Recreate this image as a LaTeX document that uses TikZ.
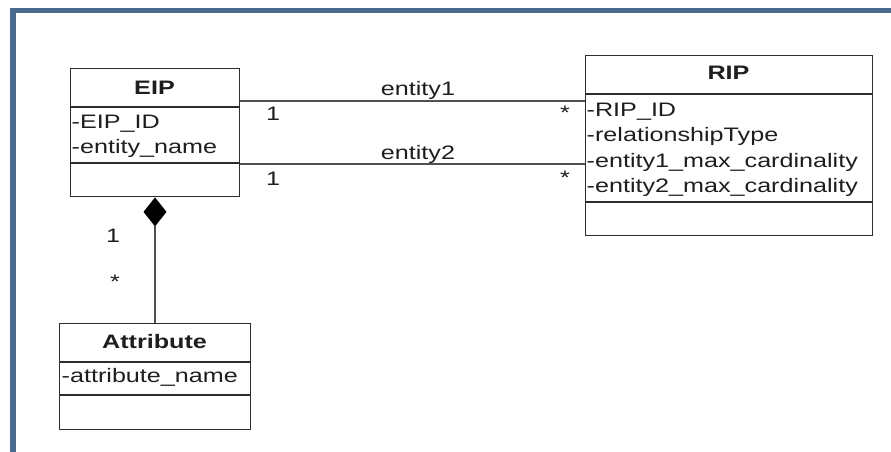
\documentclass[tikz,border=0pt]{standalone}
\usepackage{fontspec}
\setmainfont{Liberation Sans}[FakeStretch=1.29]
\usetikzlibrary{calc}
\definecolor{frameblue}{RGB}{74,106,142}
\definecolor{boxline}{RGB}{45,45,45}
\definecolor{linkline}{RGB}{80,80,80}
\definecolor{txt}{RGB}{30,30,30}
\begin{document}
\begin{tikzpicture}[x=1pt,y=-1pt,
  classbox/.style={draw=boxline,line width=1.4pt,fill=white,rectangle,inner sep=0pt,anchor=north west},
  divider/.style={draw=boxline,line width=1.4pt},
  link/.style={draw=linkline,line width=1.3pt},
  title/.style={font=\fontsize{19.5}{23}\selectfont\bfseries,text=txt,inner sep=0pt,anchor=base},
  attr/.style={font=\fontsize{19.5}{23}\selectfont,text=txt,inner sep=0pt,anchor=base west},
  lbl/.style={font=\fontsize{19.5}{23}\selectfont,text=txt,inner sep=0pt,anchor=base}]
\useasboundingbox (0,0) rectangle (891,452);
% page background and frame
\fill[white] (0,0) rectangle (891,452);
\fill[frameblue] (10,8) rectangle (891,13.5);
\fill[frameblue] (10,8) rectangle (16,452);

% class EIP
\node[classbox,minimum width=169pt,minimum height=128pt] (eip) at (70,68) {};
\draw[divider] ($(eip.north west)+(0,39)$) -- ($(eip.north east)+(0,39)$);
\draw[divider] ($(eip.north west)+(0,95)$) -- ($(eip.north east)+(0,95)$);
\node[title] (eipname) at (154.5,94) {EIP};
\node[attr] (eipa1) at (71.5,128) {-EIP\_ID};
\node[attr] (eipa2) at (71.5,153) {-entity\_name};

% class RIP
\node[classbox,minimum width=287pt,minimum height=180pt] (rip) at (585,55) {};
\draw[divider] ($(rip.north west)+(0,39)$) -- ($(rip.north east)+(0,39)$);
\draw[divider] ($(rip.north west)+(0,147)$) -- ($(rip.north east)+(0,147)$);
\node[title] (ripname) at (728.5,80) {RIP};
\node[attr] (ripa1) at (586.5,116) {-RIP\_ID};
\node[attr] (ripa2) at (586.5,141) {-relationshipType};
\node[attr] (ripa3) at (586.5,167) {-entity1\_max\_cardinality};
\node[attr] (ripa4) at (586.5,192) {-entity2\_max\_cardinality};

% class Attribute
\node[classbox,minimum width=191pt,minimum height=106pt] (attrib) at (59,323) {};
\draw[divider] ($(attrib.north west)+(0,39)$) -- ($(attrib.north east)+(0,39)$);
\draw[divider] ($(attrib.north west)+(0,72)$) -- ($(attrib.north east)+(0,72)$);
\node[title] (attribname) at (154.5,348) {Attribute};
\node[attr] (attriba1) at (61.5,382) {-attribute\_name};

% associations EIP -- RIP
\draw[link] ($(eip.north east)+(0,33)$) -- ($(rip.north west)+(0,46)$);
\draw[link] ($(eip.north east)+(0,96)$) -- ($(rip.north west)+(0,109)$);
\node[lbl] (e1) at (418,95) {entity1};
\node[lbl] (e2) at (418,159) {entity2};
\node[lbl] (m1a) at (273,120) {1};
\node[lbl] (m1b) at (273,185) {1};
\node[lbl] (s1a) at (565,119) {*};
\node[lbl] (s1b) at (565,184) {*};

% composition EIP <>-- Attribute
\coordinate (dtop) at ($(eip.south west)+(85,0)$);
\fill[black] (dtop) -- ++(11.5,14.5) -- ++(-11.5,14.5) -- ++(-11.5,-14.5) -- cycle;
\coordinate (dbot) at ($(dtop)+(0,29)$);
\draw[link] (dbot) -- (dbot |- attrib.north);
\node[lbl] (m2a) at (113,242) {1};
\node[lbl] (s2a) at (115,288) {*};
\end{tikzpicture}
\end{document}
